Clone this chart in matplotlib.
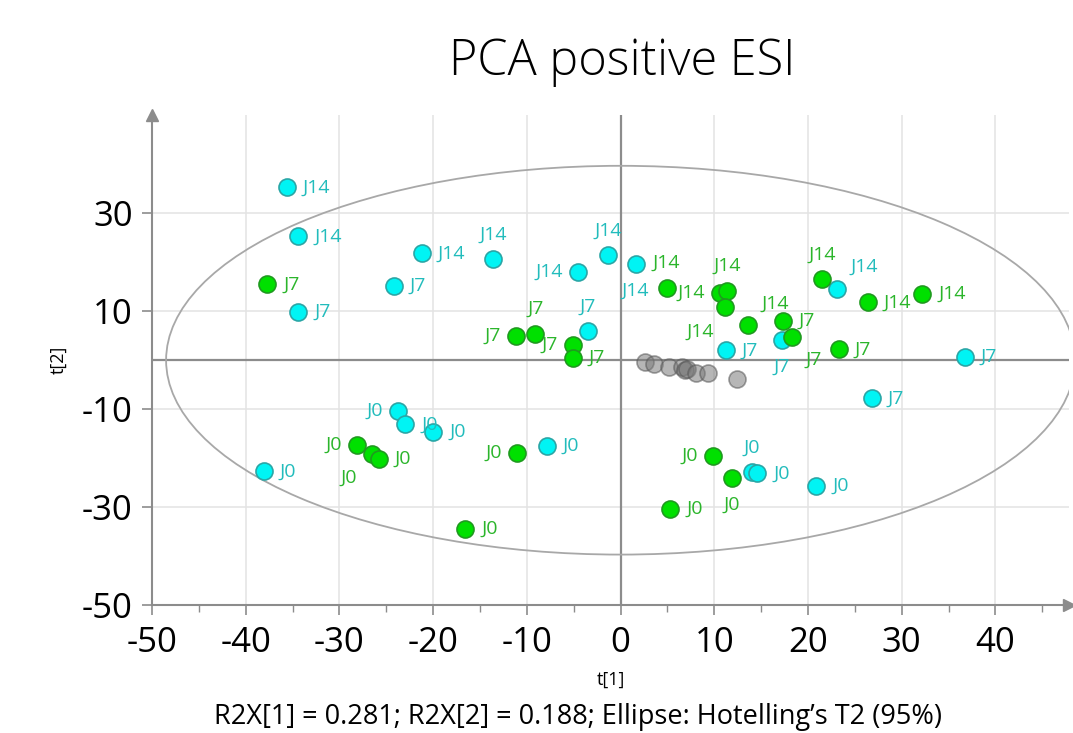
#PCA score plot (t[1] vs t[2]) with Hotelling T2 ellipse
#values
import matplotlib.pyplot as plt
from matplotlib.patches import Ellipse

plt.rcParams['font.family'] = ['Open Sans', 'DejaVu Sans']
plt.rcParams['axes.unicode_minus'] = False

# cyan group: t1, t2, label
cyan_t1 = [-35.6, -34.4, -21.2, -13.6, -4.5, -1.3, 1.6, 23.1,
           -24.2, -34.4, -3.5, 11.2, 17.2, 36.7, 26.8,
           -23.7, -23.0, -20.0, -38.1, -7.9, 14.0, 14.6, 20.9]
cyan_t2 = [35.3, 25.3, 21.8, 20.6, 18.0, 21.4, 19.6, 14.5,
           15.1, 9.8, 5.9, 2.0, 4.1, 0.6, -7.8,
           -10.4, -13.1, -14.7, -22.7, -17.5, -22.9, -23.1, -25.7]
cyan_lab = ['J14'] * 8 + ['J7'] * 7 + ['J0'] * 8
cyan_pos = ['r', 'r', 'r', 'a', 'l', 'a', 'b', 'ar',
            'r', 'r', 'a', 'r', 'b', 'r', 'r',
            'l', 'r', 'r', 'r', 'r', 'a', 'r', 'r']

# green group
green_t1 = [4.9, 10.6, 11.4, 11.1, 13.6, 21.5, 26.4, 32.2,
            -37.7, -11.2, -9.1, -5.1, -5.1, 17.3, 18.3, 23.3,
            -28.1, -26.5, -25.8, -16.6, -11.1, 9.9, 11.9, 5.3]
green_t2 = [14.7, 13.7, 14.1, 10.8, 7.1, 16.5, 11.8, 13.5,
            15.5, 4.9, 5.3, 3.1, 0.4, 8.0, 4.7, 2.2,
            -17.3, -19.2, -20.2, -34.5, -19.0, -19.6, -24.1, -30.4]
green_lab = ['J14'] * 8 + ['J7'] * 8 + ['J0'] * 8
green_pos = ['a', 'l', 'a', 'bl', 'ar', 'a', 'r', 'r',
             'r', 'l', 'a', 'l', 'r', 'r', 'br', 'r',
             'l', 'bl', 'r', 'r', 'l', 'l', 'b', 'r']

# grey group (QC, no labels)
qc_t1 = [2.6, 3.6, 5.2, 6.5, 6.9, 7.1, 8.1, 9.3, 12.4]
qc_t2 = [-0.4, -0.8, -1.4, -1.4, -2.0, -1.9, -2.7, -2.7, -3.9]

# label placement in pixels
offs = {'r': (16, 0, 'left'), 'l': (-15, 0, 'right'), 'a': (0, 25, 'center'),
        'b': (0, -27, 'center'), 'ar': (27, 22, 'center'), 'br': (22, -23, 'center'),
        'bl': (-24, -24, 'center')}

fig = plt.figure(figsize=(10.73, 7.33), dpi=100, facecolor='w')
ax = fig.add_axes([0.1417, 0.1746, 0.855, 0.668])
ax.set_xlim(-50, 47.9)
ax.set_ylim(-50, 50)

for v in range(-40, 41, 10):
    ax.axvline(v, color='#e3e3e3', lw=1.1, zorder=0)
for v in [30, 10, -10, -30]:
    ax.axhline(v, color='#e3e3e3', lw=1.1, zorder=0)
ax.axvline(0, color='#8c8c8c', lw=1.6, zorder=1)
ax.axhline(0, color='#8c8c8c', lw=1.6, zorder=1)

ax.add_patch(Ellipse((0, 0), 97, 79.4, fill=False, edgecolor='#a8a8a8', lw=1.3, zorder=1))

ax.scatter(cyan_t1, cyan_t2, s=150, c='#00f4f4', edgecolors='#2aa6a6', linewidths=1.2, zorder=3)
ax.scatter(green_t1, green_t2, s=150, c='#00e000', edgecolors='#1f9a1f', linewidths=1.2, zorder=3)
ax.scatter(qc_t1, qc_t2, s=150, c='#7a7a7a', alpha=0.55, edgecolors='#555555', linewidths=1.2, zorder=3)

for xs, ys, labs, pos, col in [(cyan_t1, cyan_t2, cyan_lab, cyan_pos, '#22bcbc'),
                               (green_t1, green_t2, green_lab, green_pos, '#2bb52b')]:
    for x, y, l, p in zip(xs, ys, labs, pos):
        dx, dy, ha = offs[p]
        ax.annotate(l, (x, y), xytext=(dx, dy), textcoords='offset pixels',
                    ha=ha, va='center', fontsize=14, color=col, zorder=4)

for s in ['top', 'right']:
    ax.spines[s].set_visible(False)
for s in ['left', 'bottom']:
    ax.spines[s].set_color('#8c8c8c')
    ax.spines[s].set_linewidth(1.5)
ax.plot(0, 1, '^', color='#8c8c8c', ms=9, transform=ax.transAxes, clip_on=False)
ax.plot(1, 0, '>', color='#8c8c8c', ms=9, transform=ax.transAxes, clip_on=False)

ax.set_xticks(range(-50, 41, 10))
ax.set_xticks(range(-45, 46, 10), minor=True)
ax.set_yticks([30, 10, -10, -30, -50])
ax.tick_params(axis='both', which='major', labelsize=25, color='#8c8c8c', length=7, width=1.2)
ax.tick_params(axis='x', which='major', pad=8)
ax.tick_params(axis='y', which='major', pad=7)
ax.tick_params(axis='x', which='minor', color='#8c8c8c', length=5, width=1.0)

ax.set_xlabel('t[1]', fontsize=13, labelpad=8)
ax.set_ylabel('t[2]', fontsize=13, labelpad=10)

fig.text(0.580, 0.915, 'PCA positive ESI', ha='center', va='center', fontsize=35, fontweight='light')
fig.text(0.539, 0.022, 'R2X[1] = 0.281; R2X[2] = 0.188; Ellipse: Hotelling\u2019s T2 (95%)',
         ha='center', va='center', fontsize=19.5)

fig.savefig('out.png', dpi=100)
